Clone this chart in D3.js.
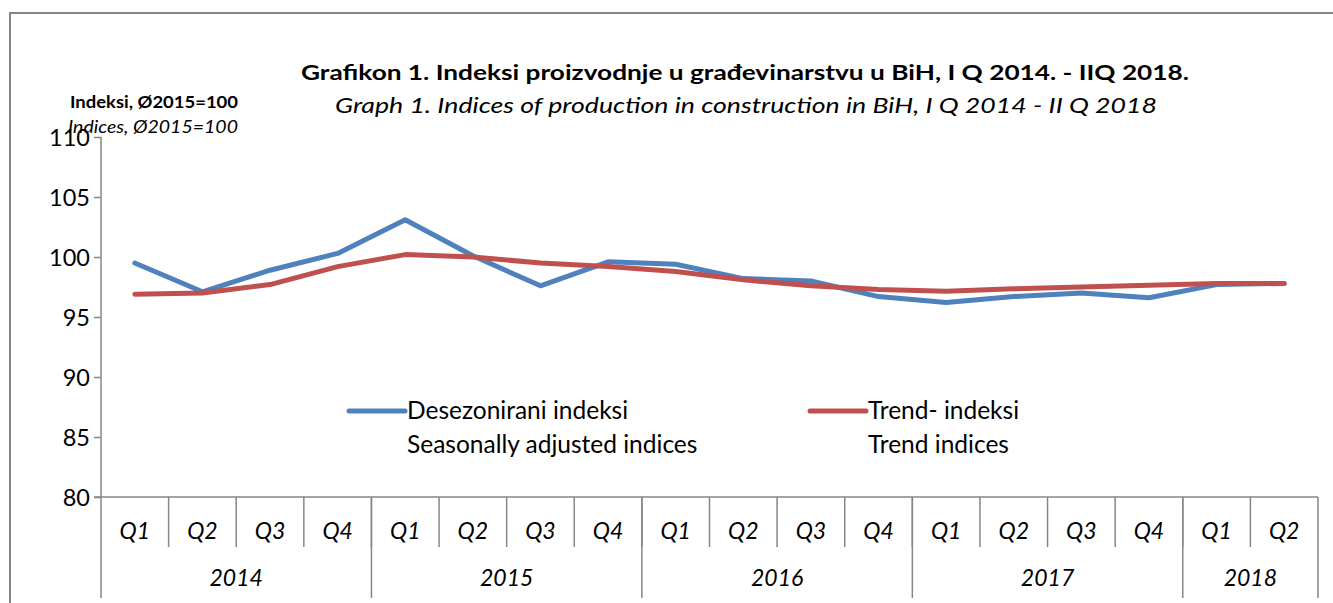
<!DOCTYPE html>
<html>
<head>
<meta charset="utf-8">
<script src="https://cdn.jsdelivr.net/npm/d3@7"></script>
<style>
  html, body { margin: 0; padding: 0; background: #fff; }
  svg { display: block; font-family: Lato, "Open Sans", sans-serif; }
</style>
</head>
<body>
<div id="chart"></div>
<script>
/* Construction production indices, BiH, quarterly 2014–2018 */
var quarters = ["Q1","Q2","Q3","Q4","Q1","Q2","Q3","Q4","Q1","Q2","Q3","Q4","Q1","Q2","Q3","Q4","Q1","Q2"];
var years = [
  { label: "2014", count: 4 },
  { label: "2015", count: 4 },
  { label: "2016", count: 4 },
  { label: "2017", count: 4 },
  { label: "2018", count: 2 }
];
var seasonal = [99.5, 97.1, 98.9, 100.3, 103.1, 100.1, 97.6, 99.6, 99.4, 98.2, 98.0, 96.7, 96.2, 96.7, 97.0, 96.6, 97.7, 97.8];
var trend = [96.9, 97.0, 97.7, 99.2, 100.2, 100.0, 99.5, 99.2, 98.8, 98.1, 97.6, 97.3, 97.15, 97.35, 97.5, 97.65, 97.8, 97.8];
var yTicks = [80, 85, 90, 95, 100, 105, 110];

var W = 1333, H = 603;
var axisCol = "#868686";
var blue = "#4F81BD", red = "#C0504D";

var svg = d3.select("#chart").append("svg")
  .attr("width", W).attr("height", H);

/* Outer chart frame — runs off the bottom/right of the picture */
svg.append("rect")
  .attr("x", 10).attr("y", 13)
  .attr("width", 1340).attr("height", 620)
  .attr("fill", "none").attr("stroke", axisCol).attr("stroke-width", 2);

var plotL = 101, plotR = 1318, plotT = 137, plotB = 497;

var x = d3.scaleBand().domain(d3.range(quarters.length)).range([plotL, plotR]).padding(0);
var y = d3.scaleLinear().domain([80, 110]).range([plotB, plotT]);

/* Y axis */
var yAxis = d3.axisLeft(y).tickValues(yTicks).tickSize(7).tickFormat(d3.format("d"));
var gy = svg.append("g").attr("transform", "translate(" + plotL + ",0)").call(yAxis);
gy.select(".domain").remove();
gy.selectAll(".tick line").attr("stroke", axisCol).attr("stroke-width", 1.5);
gy.selectAll(".tick text")
  .attr("x", -11).attr("dy", "0.36em").attr("fill", "#000")
  .attr("font-family", "Lato, sans-serif")
  .attr("font-size", 23.5);
svg.append("line")
  .attr("x1", plotL).attr("x2", plotL).attr("y1", plotT).attr("y2", 598)
  .attr("stroke", axisCol).attr("stroke-width", 1.5);

/* X axis — quarter row + year row */
svg.append("line")
  .attr("x1", plotL - 7).attr("x2", plotR).attr("y1", plotB).attr("y2", plotB)
  .attr("stroke", axisCol).attr("stroke-width", 1.5);

quarters.forEach(function (q, i) {
  if (i > 0) {
    svg.append("line")
      .attr("x1", x(i)).attr("x2", x(i))
      .attr("y1", plotB).attr("y2", 547)
      .attr("stroke", axisCol).attr("stroke-width", 1.5);
  }
  svg.append("text")
    .attr("x", x(i) + x.bandwidth() / 2)
    .attr("y", 539)
    .attr("text-anchor", "middle")
    .attr("font-style", "italic")
    .attr("font-size", 23)
    .text(q);
});

var start = 0;
years.forEach(function (yr) {
  var x0 = x(start);
  var end = start + yr.count;
  var x1 = end < quarters.length ? x(end) : plotR;
  svg.append("line")
    .attr("x1", x1).attr("x2", x1)
    .attr("y1", plotB).attr("y2", 598)
    .attr("stroke", axisCol).attr("stroke-width", 1.5);
  svg.append("text")
    .attr("x", (x0 + x1) / 2)
    .attr("y", 586)
    .attr("text-anchor", "middle")
    .attr("font-style", "italic")
    .attr("font-size", 23)
    .text(yr.label);
  start = end;
});

/* Lines */
var line = d3.line()
  .x(function (d, i) { return x(i) + x.bandwidth() / 2; })
  .y(function (d) { return y(d); });

svg.append("path").datum(seasonal)
  .attr("d", line).attr("fill", "none")
  .attr("stroke", blue).attr("stroke-width", 5)
  .attr("stroke-linejoin", "round").attr("stroke-linecap", "round");
svg.append("path").datum(trend)
  .attr("d", line).attr("fill", "none")
  .attr("stroke", red).attr("stroke-width", 5)
  .attr("stroke-linejoin", "round").attr("stroke-linecap", "round");

/* Legend */
function legendItem(lx, color, l1, l2) {
  svg.append("line")
    .attr("x1", lx).attr("x2", lx + 56).attr("y1", 411).attr("y2", 411)
    .attr("stroke", color).attr("stroke-width", 5).attr("stroke-linecap", "round");
  svg.append("text").attr("x", lx + 58).attr("y", 419).attr("font-size", 24.5).text(l1);
  svg.append("text").attr("x", lx + 58).attr("y", 453).attr("font-size", 24.5).text(l2);
}
legendItem(349, blue, "Desezonirani indeksi", "Seasonally adjusted indices");
legendItem(810, red, "Trend- indeksi", "Trend indices");

/* Titles */
svg.append("text")
  .attr("x", 745).attr("y", 80)
  .attr("text-anchor", "middle")
  .attr("font-weight", "bold").attr("font-size", 21)
  .attr("textLength", 888).attr("lengthAdjust", "spacingAndGlyphs")
  .text("Grafikon 1. Indeksi  proizvodnje u građevinarstvu u BiH, I Q 2014. - IIQ 2018.");
svg.append("text")
  .attr("x", 746).attr("y", 113)
  .attr("text-anchor", "middle")
  .attr("font-style", "italic").attr("font-size", 22)
  .attr("textLength", 822).attr("lengthAdjust", "spacingAndGlyphs")
  .text("Graph 1. Indices of production in construction in BiH, I Q 2014 - II Q 2018");

svg.append("text")
  .attr("x", 154).attr("y", 108)
  .attr("text-anchor", "middle")
  .attr("font-weight", "bold").attr("font-size", 17)
  .attr("textLength", 168).attr("lengthAdjust", "spacingAndGlyphs")
  .text("Indeksi, Ø2015=100");
svg.append("text")
  .attr("x", 153).attr("y", 133)
  .attr("text-anchor", "middle")
  .attr("font-style", "italic").attr("font-size", 18)
  .attr("textLength", 170).attr("lengthAdjust", "spacingAndGlyphs")
  .text("Indices, Ø2015=100");
</script>
</body>
</html>
